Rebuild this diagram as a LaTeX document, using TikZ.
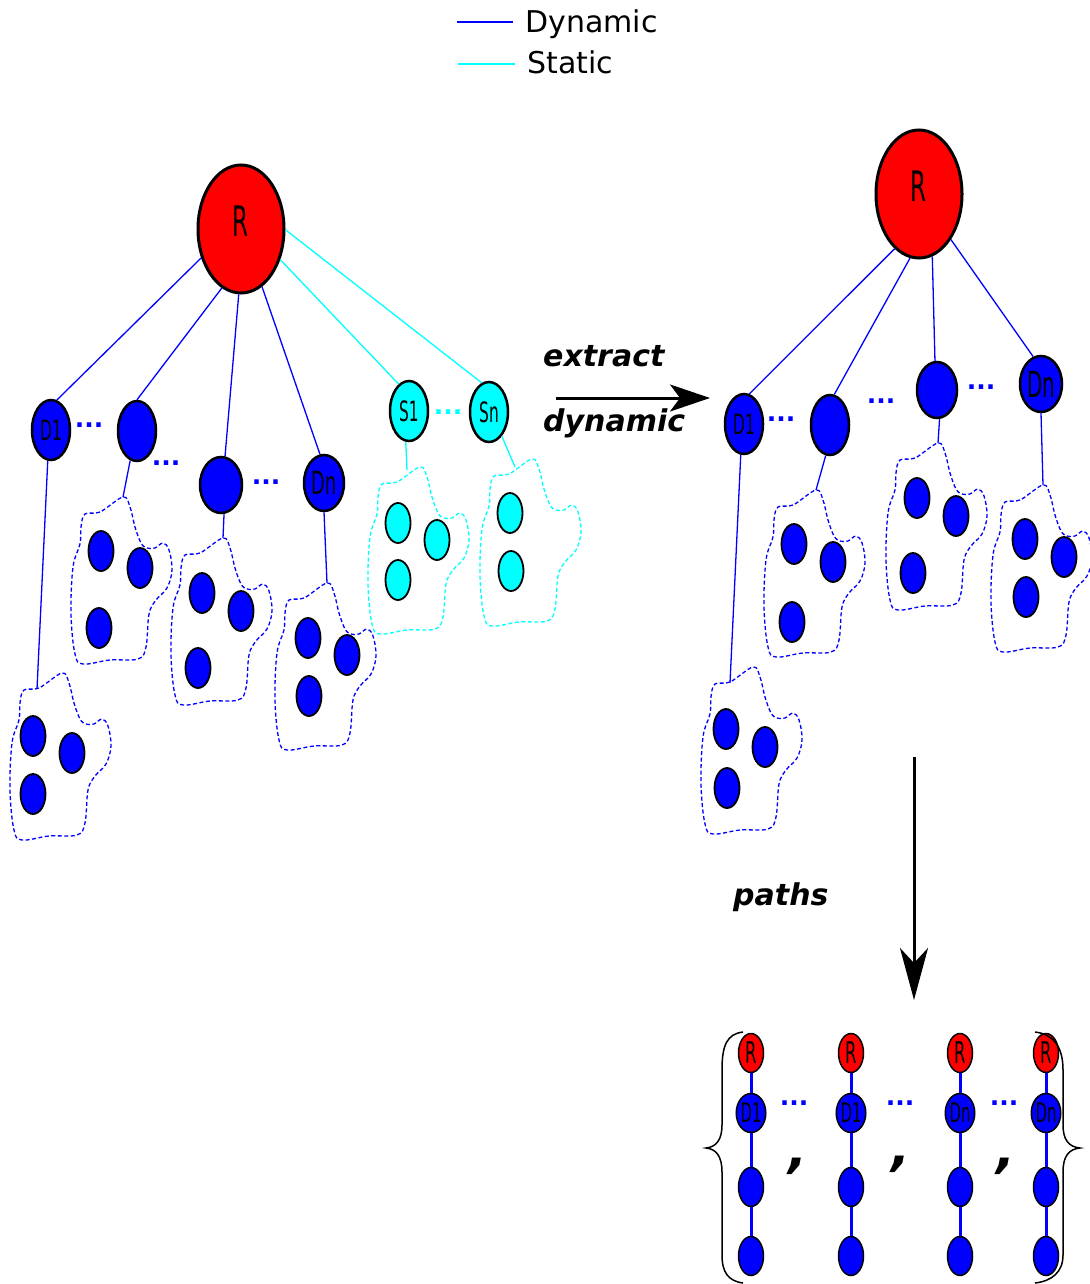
\documentclass[tikz,border=0pt]{standalone}
\usepackage{fontspec}
\setmainfont{DejaVu Sans}
\usepackage{graphicx}
\usetikzlibrary{arrows.meta, shapes.geometric}

\definecolor{aqua}{rgb}{0,1,1}
\newcommand\narrow[1]{\scalebox{0.55}[1]{#1}}
% cloud of leaves hanging under a child: name, knob point, colour, leaves
\newcommand\blob[4]{%
  \coordinate (#1) at (#2);
  \draw[blobline=#3, shift={(#2)}] plot[smooth cycle, tension=0.6] coordinates {
    (0,0) (-23,15) (-38,17) (-42,30) (-43,47) (-50,70) (-52,117) (-48,157)
    (-40,167) (-13,163) (15,162) (23,150) (26,117) (33,103) (44,91) (49,73)
    (46,53) (40,46) (32,51) (24,51) (18,46) (12,30) (7,10)};
  \foreach \k/\dx/\dy in {#4}
    \node[leaf=#3] (#1\k) at ([shift={(\dx,\dy)}]#1) {};
}

\begin{document}
\begin{tikzpicture}[
  x=1pt, y=-1pt,
  dyn/.style={blue, line width=1.3pt},
  sta/.style={aqua, line width=1.3pt},
  root/.style={ellipse, draw, line width=3pt, fill=red, inner sep=0pt,
               minimum width=86pt, minimum height=128pt, text depth=16pt,
               font=\fontsize{42}{42}\selectfont},
  kid/.style={ellipse, draw, line width=2.5pt, fill=#1, inner sep=0pt,
              minimum width=38pt, minimum height=60pt,
              font=\fontsize{28}{28}\selectfont},
  kid/.default=blue,
  leaf/.style={ellipse, draw, line width=1.8pt, fill=#1, inner sep=0pt,
               minimum width=25pt, minimum height=40pt},
  blobline/.style={#1, line width=1.3pt, dash pattern=on 4pt off 2.5pt},
  dots/.style={text=#1, inner sep=0pt, font=\fontsize{25}{25}\selectfont\bfseries},
  dots/.default=blue,
  proot/.style={ellipse, draw, line width=1.5pt, fill=red, inner sep=0pt,
                minimum width=25pt, minimum height=39pt,
                font=\fontsize{30}{30}\selectfont},
  pnode/.style={proot, fill=blue, font=\fontsize{27}{27}\selectfont},
  pedge/.style={blue, line width=3pt},
  flow/.style={line width=3pt, -{Stealth[length=40pt, width=27pt, inset=10pt]}},
  lab/.style={anchor=base west, inner sep=0pt,
              font=\fontsize{30}{30}\selectfont\bfseries\itshape},
  leg/.style={anchor=base west, inner sep=0pt, font=\fontsize{30}{30}\selectfont},
  comma/.style={inner sep=0pt, font=\fontsize{50}{50}\selectfont\bfseries\itshape},
  brace/.style={black, line width=1.5pt}
]
\useasboundingbox (0,0) rectangle (1089,1284);

% legend
\node[leg] (kdyn) at (525,33) {Dynamic};
\node[leg] (ksta) at (527,74) {Static};
\draw[dyn] (457,22) -- (513,22);
\draw[sta] (458,64) -- (515,64);

% left tree
\node[root] (lR) at (241,229) {\narrow{R}};
\node[kid] (lD1) at (51,430) {\narrow{D1}};
\node[kid] (lN2) at (137,431) {};
\node[kid, minimum width=42pt, minimum height=56pt] (lN3) at (221,485) {};
\node[kid, minimum width=40pt, minimum height=56pt,
      font=\fontsize{32}{32}\selectfont] (lDn) at (324,483) {\narrow{Dn}};
\node[kid=aqua] (lS1) at (409,411) {\narrow{S1}};
\node[kid=aqua] (lSn) at (489,412) {\narrow{Sn}};

\node[dots] (ld1) at (89,425) {...};
\node[dots] (ld2) at (166,463) {...};
\node[dots] (ld3) at (266,482) {...};
\node[dots=aqua] (ld4) at (448,412) {...};

\draw[dyn] (lR.216) -- (lD1.79);
\draw[dyn] (lR.252) -- (lN2.90);
\draw[dyn] (lR.268) -- (lN3.82);
\draw[dyn] (lR.290) -- (lDn.98);
\draw[sta] (lR.322) -- (lS1.111);
\draw[sta] (lR.359) -- (lSn.104);

\blob{lb1}{62,673}{blue}{a/-29/63, b/10/80, c/-29/121}
\blob{lb2}{123,497}{blue}{a/-22/54, b/17/71, c/-24/131}
\blob{lb3}{223,538}{blue}{a/-21/55, b/18/73, c/-25/130}
\blob{lb4}{327,583}{blue}{a/-19/55, b/20/72, c/-18/113}
\blob{ls1}{420,467}{aqua}{a/-22/56, b/17/73, c/-22/113}
\blob{ls2}{532,459}{aqua}{a/-22/54, b/-21/112}
\coordinate (la1) at (37,689);
\coordinate (las1) at (407,470);
\coordinate (las2) at (515,467);

\draw[dyn] (lD1.264) -- (la1);
\draw[dyn] (lN2.257) -- (lb2);
\draw[dyn] (lN3.276) -- (lb3);
\draw[dyn] (lDn.270) -- (lb4);
\draw[sta] (lS1.264) -- (las1);
\draw[sta] (lSn.298) -- (las2);

% extract dynamic
\coordinate (exfrom) at (556,398);
\coordinate (exto) at (710,398);
\draw[flow] (exfrom) -- (exto);
\node[lab] (lbext) at (543,366) {extract};
\node[lab] (lbdyn) at (543,431) {dynamic};

% right tree
\node[root] (rR) at (919,194) {\narrow{R}};
\node[kid] (rD1) at (744,424) {\narrow{D1}};
\node[kid] (rN2) at (830,425) {};
\node[kid, minimum width=40pt, minimum height=56pt] (rN3) at (937,390) {};
\node[kid, minimum width=42pt, minimum height=56pt,
      font=\fontsize{36}{36}\selectfont] (rDn) at (1041,384) {\narrow{Dn}};

\node[dots] (rd1) at (781,419) {...};
\node[dots] (rd2) at (881,401) {...};
\node[dots] (rd3) at (981,387) {...};

\draw[dyn] (rR.246) -- (rD1.80);
\draw[dyn] (rR.262) -- (rN2.82);
\draw[dyn] (rR.282) -- (rN3.94);
\draw[dyn] (rR.305) -- (rDn.106);

\blob{rb1}{753,667}{blue}{a/-27/62, b/12/80, c/-26/121}
\blob{rb2}{816,490}{blue}{a/-22/54, b/17/72, c/-24/132}
\blob{rb3}{938,443}{blue}{a/-21/55, b/18/73, c/-25/130}
\blob{rb4}{1043,485}{blue}{a/-18/54, b/21/72, c/-17/112}
\coordinate (ra1) at (730,683);

\draw[dyn] (rD1.264) -- (ra1);
\draw[dyn] (rN2.262) -- (rb2);
\draw[dyn] (rN3.275) -- (rb3);
\draw[dyn] (rDn.270) -- (rb4);

% paths
\coordinate (pfrom) at (914,757);
\coordinate (pto) at (914,1000);
\draw[flow, -{Stealth[length=52pt, width=28pt, inset=15pt]}] (pfrom) -- (pto);
\node[lab] (lbpath) at (733,905) {paths};

\foreach \col/\x/\d in {1/751/D1, 2/851/D1, 3/960/Dn, 4/1046/Dn} {
  \node[proot] (p\col r) at (\x,1053) {\narrow{R}};
  \node[pnode] (p\col d) at (\x,1113) {\narrow{\d}};
  \node[pnode] (p\col e) at (\x,1187) {};
  \node[pnode] (p\col f) at (\x,1256) {};
  \draw[pedge] (p\col r) -- (p\col d) -- (p\col e) -- (p\col f);
}
\node[dots] (pd1) at (794,1103) {...};
\node[dots] (pd2) at (900,1103) {...};
\node[dots] (pd3) at (1004,1103) {...};
\node[comma] (pc1) at (798,1166) {,};
\node[comma] (pc2) at (901,1164) {,};
\node[comma] (pc3) at (1006,1166) {,};

\draw[brace] (743,1032) .. controls (727,1034) and (722,1045) .. (722,1070)
  -- (722,1125) .. controls (722,1140) and (716,1147) .. (706,1148)
  .. controls (716,1149) and (722,1156) .. (722,1172)
  -- (722,1255) .. controls (722,1272) and (728,1281) .. (743,1283);
\draw[brace] (1035,1032) .. controls (1052,1034) and (1063,1045) .. (1063,1070)
  -- (1063,1125) .. controls (1063,1140) and (1069,1147) .. (1080,1148)
  .. controls (1069,1149) and (1063,1156) .. (1063,1172)
  -- (1063,1255) .. controls (1063,1272) and (1052,1281) .. (1035,1283);
\end{tikzpicture}
\end{document}
